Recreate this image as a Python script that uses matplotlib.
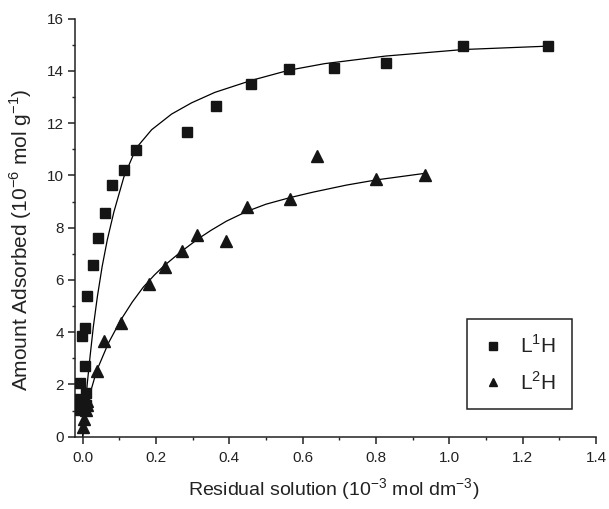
import matplotlib
matplotlib.use("Agg")
import matplotlib.pyplot as plt
from matplotlib.ticker import MultipleLocator, FormatStrFormatter

plt.rcParams['font.family'] = ['Liberation Sans', 'DejaVu Sans']
plt.rcParams['mathtext.fontset'] = 'custom'
plt.rcParams['mathtext.rm'] = 'Liberation Sans'

# L1H measured points (squares)
l1_x = [-0.007, 0.008, -0.010, 0.009, -0.007, 0.006, -0.003, 0.007, 0.0125, 0.027,
        0.043, 0.061, 0.079, 0.112, 0.146, 0.284, 0.364, 0.460, 0.563, 0.686,
        0.826, 1.038, 1.270]
l1_y = [1.03, 1.21, 1.44, 1.67, 2.07, 2.71, 3.85, 4.17, 5.40, 6.56,
        7.59, 8.57, 9.62, 10.19, 10.97, 11.65, 12.66, 13.50, 14.07, 14.10,
        14.29, 14.96, 14.97]

# L2H measured points (triangles)
l2_x = [0.002, 0.003, 0.010, 0.012, 0.013, 0.038, 0.058, 0.104, 0.180, 0.225,
        0.270, 0.312, 0.392, 0.447, 0.565, 0.638, 0.801, 0.933]
l2_y = [0.39, 0.68, 1.03, 1.20, 1.35, 2.52, 3.65, 4.37, 5.84, 6.50,
        7.11, 7.72, 7.48, 8.79, 9.08, 10.73, 9.85, 10.00]

# fitted curves
fit1_x = [0, 0.006, 0.0125, 0.020, 0.029, 0.040, 0.053, 0.067, 0.085, 0.1125,
          0.146, 0.188, 0.2425, 0.297, 0.3605, 0.4605, 0.563, 0.660, 0.826,
          1.038, 1.270]
fit1_y = [0, 1.02, 2.04, 3.06, 4.21, 5.36, 6.51, 7.53, 8.60, 9.95,
          11.05, 11.75, 12.35, 12.78, 13.18, 13.64, 14.03, 14.28, 14.57,
          14.82, 14.95]

fit2_x = [0, 0.0065, 0.015, 0.038, 0.070, 0.104, 0.135, 0.165, 0.195, 0.220,
          0.268, 0.3155, 0.350, 0.392, 0.447, 0.500, 0.565, 0.628, 0.719,
          0.801, 0.933]
fit2_y = [0, 0.77, 1.41, 2.52, 3.58, 4.47, 5.15, 5.72, 6.18, 6.52,
          7.08, 7.58, 7.90, 8.25, 8.62, 8.90, 9.15, 9.36, 9.63,
          9.83, 10.08]

labels = [r'L$^{\mathregular{1}}$H', r'L$^{\mathregular{2}}$H']

fig = plt.figure(figsize=(6.09, 5.09), dpi=100)
ax = fig.add_axes([75/609, 1-436.7/509, 521/609, 418/509])

mc = '#151515'
ax.plot(fit1_x, fit1_y, color='black', lw=0.9, zorder=2)
ax.plot(fit2_x, fit2_y, color='black', lw=0.9, zorder=2)
ax.plot(l1_x, l1_y, ls='none', marker='s', ms=7.2, color=mc, mec=mc, label=labels[0], zorder=3)
ax.plot(l2_x, l2_y, ls='none', marker='^', ms=8.5, color=mc, mec=mc, label=labels[1], zorder=3)

ax.set_xlim(-0.021, 1.4)
ax.set_ylim(0, 16)
ax.xaxis.set_major_locator(MultipleLocator(0.2))
ax.xaxis.set_minor_locator(MultipleLocator(0.1))
ax.yaxis.set_major_locator(MultipleLocator(2))
ax.yaxis.set_minor_locator(MultipleLocator(1))
ax.xaxis.set_major_formatter(FormatStrFormatter('%.1f'))

for s in ['top', 'right']:
    ax.spines[s].set_visible(False)
for s in ['left', 'bottom']:
    ax.spines[s].set_linewidth(1.1)
    ax.spines[s].set_color('#222222')

ax.tick_params(which='major', direction='out', length=5, width=1.1, labelsize=11,
               color='#222222', labelcolor='#222222')
ax.tick_params(which='minor', direction='out', length=2.5, width=1.0, color='#222222')
ax.tick_params(axis='x', pad=5)
ax.tick_params(axis='y', pad=3)

ax.set_xlabel(r'Residual solution (10$^{\mathregular{-3}}$ mol dm$^{\mathregular{-3}}$)',
              fontsize=14, color='#222222')
ax.set_ylabel(r'Amount Adsorbed (10$^{\mathregular{-6}}$ mol g$^{\mathregular{-1}}$)',
              fontsize=15, color='#222222')
ax.xaxis.set_label_coords(0.497, -0.094)
ax.yaxis.set_label_coords(-0.079, 0.47)

leg = ax.legend(loc='upper left', bbox_to_anchor=((467-75)/521, (436.7-319)/418),
                borderaxespad=0, fontsize=15, frameon=True, fancybox=False,
                edgecolor='#222222', framealpha=1, handlelength=1.0,
                handletextpad=0.8, borderpad=0.75, labelspacing=0.65,
                markerscale=0.75)
leg.get_frame().set_linewidth(1.1)
for t in leg.get_texts():
    t.set_color('#222222')

fig.savefig('out.png', dpi=100)
